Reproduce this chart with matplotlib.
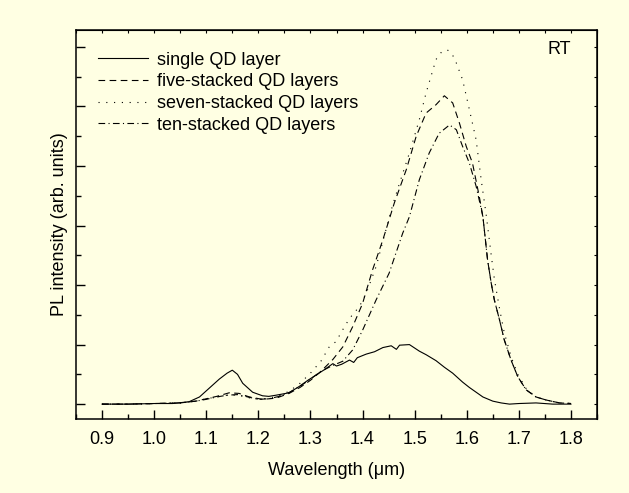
import matplotlib
matplotlib.use("Agg")
import matplotlib.pyplot as plt
from matplotlib.ticker import MultipleLocator, NullFormatter

# ---- data ----
single_x = [0.90, 0.95, 1.00, 1.035, 1.067, 1.087, 1.106, 1.125, 1.140, 1.150, 1.160, 1.170,
            1.189, 1.208, 1.220, 1.234, 1.259, 1.279, 1.295, 1.311, 1.327, 1.343, 1.350, 1.360,
            1.375, 1.383, 1.390, 1.407, 1.423, 1.439, 1.455, 1.465, 1.471, 1.490, 1.509, 1.522,
            1.541, 1.557, 1.573, 1.592, 1.605, 1.618, 1.631, 1.650, 1.666, 1.682, 1.700, 1.733,
            1.765, 1.800]
single_y = [0.00, 0.00, 0.01, 0.01, 0.04, 0.12, 0.27, 0.42, 0.52, 0.57, 0.50, 0.35,
            0.20, 0.14, 0.13, 0.15, 0.19, 0.30, 0.40, 0.49, 0.58, 0.68, 0.64, 0.67,
            0.74, 0.70, 0.78, 0.84, 0.88, 0.95, 0.98, 0.92, 0.99, 1.00, 0.89, 0.83,
            0.73, 0.62, 0.52, 0.37, 0.28, 0.20, 0.12, 0.05, 0.02, 0.00, 0.01, 0.02,
            0.00, 0.00]

five_x = [0.90, 0.95, 1.00, 1.05, 1.08, 1.10, 1.12, 1.144, 1.163, 1.183, 1.208, 1.234,
          1.259, 1.28, 1.30, 1.32, 1.343, 1.362, 1.381, 1.400, 1.419, 1.439, 1.461, 1.484,
          1.503, 1.522, 1.541, 1.557, 1.573, 1.586, 1.599, 1.611, 1.624, 1.631, 1.640,
          1.647, 1.653, 1.663, 1.672, 1.685, 1.698, 1.714, 1.733, 1.752, 1.778, 1.800]
five_y = [0.00, 0.00, 0.01, 0.02, 0.05, 0.09, 0.13, 0.19, 0.18, 0.12, 0.08, 0.10,
          0.18, 0.28, 0.40, 0.55, 0.75, 0.96, 1.30, 1.69, 2.25, 2.76, 3.38, 3.94,
          4.50, 4.89, 5.03, 5.18, 5.06, 4.72, 4.33, 4.05, 3.49, 3.15, 2.42,
          2.03, 1.75, 1.41, 1.08, 0.74, 0.46, 0.24, 0.12, 0.07, 0.02, 0.01]

seven_x = [0.90, 0.95, 1.00, 1.05, 1.08, 1.10, 1.12, 1.14, 1.16, 1.18, 1.20, 1.22, 1.24,
           1.26, 1.28, 1.30, 1.32, 1.336, 1.349, 1.362, 1.375, 1.394, 1.407, 1.426, 1.445,
           1.458, 1.471, 1.490, 1.509, 1.522, 1.541, 1.552, 1.563, 1.572, 1.580, 1.592,
           1.605, 1.618, 1.628, 1.637, 1.647, 1.653, 1.663, 1.672, 1.685, 1.698, 1.714,
           1.733, 1.752, 1.778, 1.800]
seven_y = [0.00, 0.00, 0.01, 0.02, 0.05, 0.09, 0.12, 0.15, 0.15, 0.11, 0.08, 0.10, 0.14,
           0.22, 0.35, 0.52, 0.72, 0.96, 1.05, 1.25, 1.44, 1.64, 1.86, 2.31, 2.93,
           3.35, 3.71, 4.22, 4.78, 5.23, 5.79, 5.92, 5.95, 5.88, 5.73, 5.45,
           4.95, 4.44, 3.75, 3.20, 2.50, 2.10, 1.60, 1.20, 0.80, 0.50, 0.26,
           0.12, 0.07, 0.02, 0.01]

ten_x = [0.90, 0.95, 1.00, 1.05, 1.08, 1.10, 1.12, 1.14, 1.16, 1.18, 1.20, 1.22, 1.24,
         1.26, 1.28, 1.30, 1.32, 1.343, 1.362, 1.381, 1.400, 1.426, 1.451, 1.477, 1.490,
         1.509, 1.528, 1.547, 1.567, 1.580, 1.592, 1.605, 1.618, 1.631, 1.640, 1.647,
         1.653, 1.663, 1.672, 1.685, 1.698, 1.714, 1.733, 1.752, 1.778, 1.800]
ten_y = [0.00, 0.00, 0.01, 0.02, 0.05, 0.08, 0.12, 0.15, 0.16, 0.12, 0.08, 0.09, 0.13,
         0.20, 0.30, 0.42, 0.55, 0.65, 0.72, 0.91, 1.24, 1.75, 2.20, 2.87, 3.15,
         3.77, 4.22, 4.55, 4.69, 4.61, 4.33, 4.05, 3.66, 3.15, 2.42, 2.03,
         1.75, 1.41, 1.08, 0.74, 0.46, 0.24, 0.12, 0.07, 0.02, 0.01]

labels = ["single QD layer", "five-stacked QD layers",
          "seven-stacked QD layers", "ten-stacked QD layers"]
x_ticks = [0.9, 1.0, 1.1, 1.2, 1.3, 1.4, 1.5, 1.6, 1.7, 1.8]

# ---- style ----
bg = "#FFFFE3"
plt.rcParams['font.family'] = ['Liberation Sans', 'DejaVu Sans']
plt.rcParams['font.size'] = 13

fig = plt.figure(figsize=(6.29, 4.93), dpi=100, facecolor=bg)
ax = fig.add_axes([76 / 629, 1 - 419 / 493, (597 - 76) / 629, (419 - 29.7) / 493])
ax.set_facecolor(bg)

lw = 0.8
ax.plot(single_x, single_y, color='black', lw=lw, ls='-', label=labels[0])
ax.plot(five_x, five_y, color='black', lw=lw, ls=(0, (6, 4)), label=labels[1])
ax.plot(seven_x, seven_y, color='black', lw=lw, ls=(0, (1, 6)), label=labels[2])
ax.plot(ten_x, ten_y, color='black', lw=lw, ls=(0, (6, 3, 1, 3)), label=labels[3])

ax.set_xlim(0.85, 1.85)
ax.set_ylim(-0.25, 6.29)
ax.set_xticks(x_ticks)
ax.set_xticklabels([f"{v:.1f}" for v in x_ticks])
ax.xaxis.set_minor_locator(MultipleLocator(0.05))
ax.yaxis.set_major_locator(MultipleLocator(1))
ax.yaxis.set_minor_locator(MultipleLocator(0.5))
ax.yaxis.set_major_formatter(NullFormatter())

for s in ax.spines.values():
    s.set_linewidth(1.1)

ax.tick_params(which='major', direction='in', length=6.5, width=1.0, top=False, right=False)
ax.tick_params(which='minor', direction='in', length=3.6, width=1.0, top=False, right=False)
ax.tick_params(axis='x', which='major', pad=9)

# small ticks on top and right
secx = ax.secondary_xaxis('top')
secx.set_xticks([0.85 + 0.05 * i for i in range(21)])
secx.tick_params(direction='in', length=2, width=0.8, labeltop=False)
secx.set_xticklabels([])
secy = ax.secondary_yaxis('right')
secy.set_yticks([0.5 * i for i in range(13)])
secy.tick_params(direction='in', length=2.5, width=0.8, labelright=False)
secy.set_yticklabels([])

ax.set_xlabel("Wavelength (μm)", labelpad=10)
ax.set_ylabel("PL intensity (arb. units)", labelpad=2)

ax.text(0.905, 0.95, "RT", transform=ax.transAxes, ha='left', va='center')

leg = ax.legend(loc='upper left', bbox_to_anchor=(0.042, 0.944), frameon=False,
                handlelength=2.8, handletextpad=0.5, labelspacing=0.26,
                borderaxespad=0.0, borderpad=0.0)

fig.savefig("out.png", dpi=100, facecolor=bg)
